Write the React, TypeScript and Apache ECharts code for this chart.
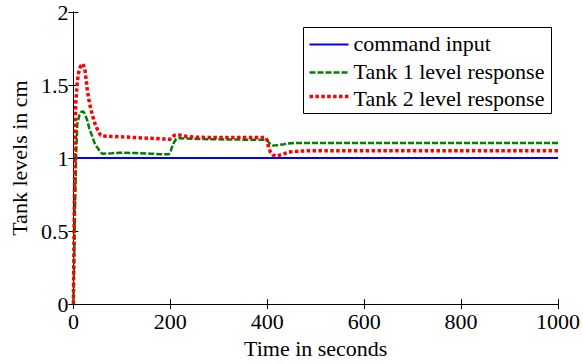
import React, { useEffect, useRef } from "react";
import * as echarts from "echarts";

const xTicks = [0, 200, 400, 600, 800, 1000];
const yTicks = [0, 0.5, 1, 1.5, 2];

const commandTime = [0, 1000];
const commandLevel = [1, 1];

const tank1Time = [0, 3, 6, 8, 12, 16, 20, 24, 28.5, 33, 38.7, 44, 49, 54, 59, 80, 96, 130, 160, 181, 197, 200, 204, 208, 212, 218, 230, 260, 300, 350, 397, 401, 406, 412, 419, 426, 434, 441, 456, 500, 600, 700, 800, 900, 1000];
const tank1Level = [0, 0.6, 1.05, 1.23, 1.29, 1.315, 1.32, 1.3, 1.26, 1.2, 1.15, 1.1, 1.074, 1.05, 1.03, 1.033, 1.037, 1.034, 1.03, 1.026, 1.026, 1.04, 1.08, 1.11, 1.13, 1.136, 1.134, 1.13, 1.128, 1.126, 1.126, 1.115, 1.097, 1.086, 1.087, 1.09, 1.095, 1.1, 1.103, 1.103, 1.103, 1.103, 1.103, 1.103, 1.103];

const tank2Time = [0, 2, 4.7, 8, 11.5, 15, 20, 24, 28.5, 33, 38.7, 44, 49, 56, 65, 80, 100, 130, 160, 190, 199, 203, 208, 215, 222, 235, 255, 300, 350, 397, 400, 403, 407, 412, 418, 423, 429, 435, 441, 453, 470, 490, 600, 700, 800, 900, 1000];
const tank2Level = [0, 0.7, 1.37, 1.52, 1.6, 1.63, 1.645, 1.6, 1.47, 1.38, 1.3, 1.24, 1.2, 1.156, 1.15, 1.148, 1.145, 1.14, 1.135, 1.13, 1.128, 1.14, 1.155, 1.16, 1.155, 1.148, 1.142, 1.14, 1.14, 1.14, 1.12, 1.07, 1.037, 1.02, 1.013, 1.017, 1.024, 1.03, 1.037, 1.045, 1.048, 1.05, 1.05, 1.05, 1.05, 1.05, 1.05];

const seriesNames = ["command input", "Tank 1 level response", "Tank 2 level response"];
const seriesColors = ["#0000ff", "#008000", "#ff0000"];
const seriesWidths = [2, 2.5, 3.5];
const seriesDash: (number[] | null)[] = [null, [6, 2], [3.5, 2.4]];

const pairs = (t: number[], v: number[]) => t.map((x, i) => [x, v[i]]);

const FONT = "Liberation Serif";
const FS = 22;

export default function App() {
  const ref = useRef<HTMLDivElement>(null);
  useEffect(() => {
    if (!ref.current) return;
    const chart = echarts.init(ref.current, undefined, { renderer: "svg" });
    const axisLine = { show: true, lineStyle: { color: "#000", width: 1 } };
    const tick = { show: true, inside: true, length: 5, lineStyle: { color: "#000" } };
    const txt = { fontFamily: FONT, fontSize: FS, color: "#000" };

    const legendX = 303;
    const legendY = 27;
    const lineY = [17, 45, 69];
    const textY = [16, 44, 71];
    const legendChildren: any[] = [
      {
        type: "rect",
        shape: { x: 0, y: 0, width: 248, height: 86 },
        style: { fill: "#fff", stroke: "#000", lineWidth: 1 },
      },
    ];
    seriesNames.forEach((n, i) => {
      legendChildren.push({
        type: "line",
        shape: { x1: 6, y1: lineY[i], x2: 45, y2: lineY[i] },
        style: {
          stroke: seriesColors[i],
          lineWidth: seriesWidths[i],
          lineDash: seriesDash[i] || undefined,
        },
      });
      legendChildren.push({
        type: "text",
        x: 50,
        y: textY[i],
        style: { text: n, font: `${FS}px ${FONT}`, fill: "#000", verticalAlign: "middle", align: "left" },
      });
    });

    chart.setOption({
      animation: false,
      backgroundColor: "#fff",
      textStyle: { fontFamily: FONT },
      grid: { left: 71, right: 21, top: 12, bottom: 49, containLabel: false },
      xAxis: [
        {
          type: "value",
          min: xTicks[0],
          max: xTicks[xTicks.length - 1],
          interval: 200,
          name: "Time in seconds",
          nameLocation: "middle",
          nameGap: 30,
          nameTextStyle: txt,
          axisLine,
          axisTick: tick,
          axisLabel: { ...txt, margin: 6, formatter: (v: number) => String(v) },
          splitLine: { show: false },
        },
        {
          type: "value",
          position: "top",
          min: xTicks[0],
          max: xTicks[xTicks.length - 1],
          interval: 200,
          axisLine,
          axisTick: tick,
          axisLabel: { show: false },
          splitLine: { show: false },
        },
      ],
      yAxis: [
        {
          type: "value",
          min: yTicks[0],
          max: yTicks[yTicks.length - 1],
          interval: 0.5,
          name: "Tank levels in cm",
          nameLocation: "middle",
          nameGap: 40,
          nameTextStyle: txt,
          axisLine,
          axisTick: tick,
          axisLabel: { ...txt, margin: 5, formatter: (v: number) => String(v) },
          splitLine: { show: false },
        },
        {
          type: "value",
          position: "right",
          min: yTicks[0],
          max: yTicks[yTicks.length - 1],
          interval: 0.5,
          axisLine,
          axisTick: tick,
          axisLabel: { show: false },
          splitLine: { show: false },
        },
      ],
      graphic: [{ type: "group", left: legendX, top: legendY, z: 100, children: legendChildren }],
      series: [
        {
          name: seriesNames[0],
          type: "line",
          data: pairs(commandTime, commandLevel),
          symbol: "none",
          lineStyle: { color: seriesColors[0], width: seriesWidths[0] },
        },
        {
          name: seriesNames[1],
          type: "line",
          data: pairs(tank1Time, tank1Level),
          symbol: "none",
          lineStyle: { color: seriesColors[1], width: seriesWidths[1], type: seriesDash[1] },
        },
        {
          name: seriesNames[2],
          type: "line",
          data: pairs(tank2Time, tank2Level),
          symbol: "none",
          lineStyle: { color: seriesColors[2], width: seriesWidths[2], type: seriesDash[2] },
        },
      ],
    });
    return () => chart.dispose();
  }, []);
  return <div ref={ref} style={{ width: 583, height: 364, position: "absolute", left: 0, top: 0 }} />;
}
